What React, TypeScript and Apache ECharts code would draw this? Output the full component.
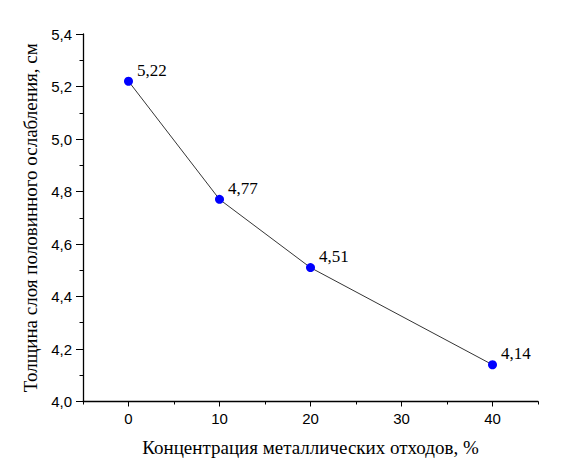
import { useEffect, useRef } from "react";
import * as echarts from "echarts";

const concentrations = [0, 10, 20, 40];
const thickness = [5.22, 4.77, 4.51, 4.14];
const xTitle = "Концентрация металлических отходов, %";
const yTitle = "Толщина слоя половинного ослабления, см";

const comma = (v: number, digits: number) => v.toFixed(digits).replace(".", ",");

export default function App() {
  const ref = useRef<HTMLDivElement>(null);

  useEffect(() => {
    if (!ref.current) return;
    const chart = echarts.init(ref.current, null, { renderer: "svg" });
    const sans = "'Liberation Sans', Arial, sans-serif";
    const serif = "'Liberation Serif', 'Times New Roman', serif";
    chart.setOption({
      animation: false,
      backgroundColor: "#ffffff",
      grid: { left: 83, right: 42, top: 34, bottom: 66.5, containLabel: false },
      xAxis: [
        {
          // minor ticks every 5
          type: "value",
          position: "bottom",
          min: -5,
          max: 45,
          interval: 5,
          axisLine: { show: true, onZero: false, lineStyle: { color: "#000", width: 1.3 } },
          axisTick: { show: true, length: 3, lineStyle: { color: "#000" } },
          axisLabel: { show: false },
          splitLine: { show: false },
        },
        {
          type: "value",
          position: "bottom",
          min: -5,
          max: 45,
          name: xTitle,
          nameLocation: "middle",
          nameGap: 36,
          nameTextStyle: { fontFamily: serif, fontSize: 19, color: "#000" },
          axisLine: { show: false, onZero: false },
          axisTick: { show: true, length: 5, lineStyle: { color: "#000" } },
          axisLabel: {
            margin: 9,
            fontFamily: sans,
            fontSize: 15,
            color: "#000",
            showMinLabel: false,
            showMaxLabel: false,
            formatter: (v: number) => (v % 10 === 0 ? String(v) : ""),
          },
          splitLine: { show: false },
        },
      ],
      yAxis: {
        type: "value",
        min: 4.0,
        max: 5.4,
        interval: 0.2,
        name: yTitle,
        nameLocation: "middle",
        nameGap: 33,
        nameTextStyle: { fontFamily: serif, fontSize: 19, color: "#000" },
        axisLine: { show: true, onZero: false, lineStyle: { color: "#000", width: 1.3 } },
        axisTick: { show: true, length: 7, lineStyle: { color: "#000" } },
        minorTick: { show: true, splitNumber: 2, length: 3.5, lineStyle: { color: "#000" } },
        axisLabel: {
          margin: 11,
          fontFamily: sans,
          fontSize: 15,
          color: "#000",
          formatter: (v: number) => comma(v, 1),
        },
        splitLine: { show: false },
      },
      series: [
        {
          type: "line",
          xAxisIndex: 1,
          data: concentrations.map((c, i) => [c, thickness[i]]),
          symbol: "circle",
          symbolSize: 9,
          itemStyle: { color: "#0000ff" },
          lineStyle: { color: "#000", width: 0.8 },
          label: {
            show: true,
            position: "right",
            distance: 4,
            offset: [0, -11],
            fontFamily: serif,
            fontSize: 17,
            color: "#000",
            formatter: (p: any) => comma(p.value[1], 2),
          },
        },
      ],
    });
    return () => chart.dispose();
  }, []);

  return (
    <div
      ref={ref}
      style={{ position: "fixed", left: 0, top: 0, width: 580, height: 468 }}
    />
  );
}
